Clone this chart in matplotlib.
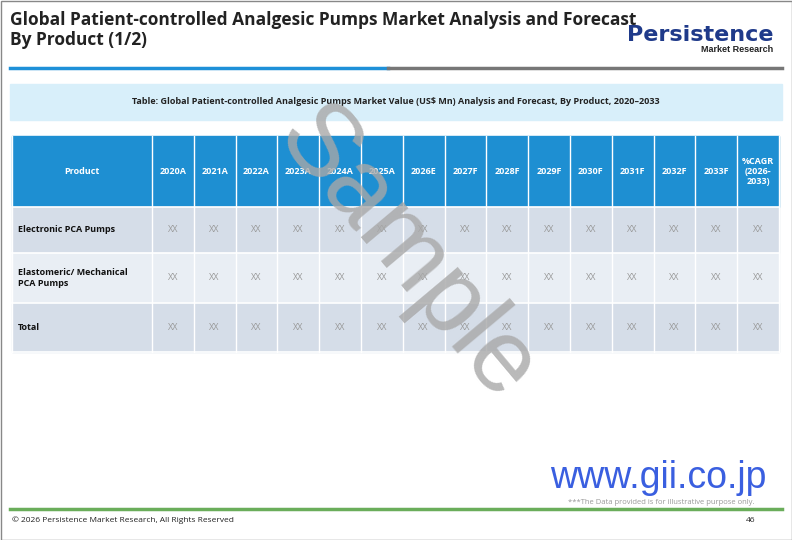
import matplotlib
matplotlib.use("Agg")
import matplotlib.pyplot as plt
from matplotlib.patches import Rectangle

years = ["2020A","2021A","2022A","2023A","2024A","2025A","2026E","2027F","2028F","2029F","2030F","2031F","2032F","2033F","%CAGR\n(2026-\n2033)"]
products = ["Electronic PCA Pumps", "Elastomeric/ Mechanical\nPCA Pumps", "Total"]
values = [["XX"]*15 for _ in products]

plt.rcParams['font.family'] = ['Open Sans', 'DejaVu Sans']
fig = plt.figure(figsize=(7.92, 5.4), dpi=100)
ax = fig.add_axes([0, 0, 1, 1])
ax.set_xlim(0, 792); ax.set_ylim(540, 0); ax.axis('off')

ax.add_patch(Rectangle((0.5, 0.5), 791, 539, fill=False, ec='#888888', lw=1))
ax.text(10, 30, "Global Patient-controlled Analgesic Pumps Market Analysis and Forecast\nBy Product (1/2)",
        fontsize=12.5, fontweight='bold', va='center', ha='left', color='#222222', linespacing=1.1)
ax.text(700, 35, "Persistence", fontsize=16, fontweight='heavy', color='#1f3a8a', ha='center', va='center', family='DejaVu Sans')
ax.text(773, 50, "Market Research", fontsize=6.5, fontweight='bold', color='#222222', ha='right', va='center', family='Liberation Sans')
ax.plot([10, 388], [68, 68], color='#1e90d8', lw=2.5)
ax.plot([388, 782], [68, 68], color='#777777', lw=2.5)
ax.add_patch(Rectangle((10, 84), 772, 36, color='#d8effa'))
ax.text(396, 102, "Table: Global Patient-controlled Analgesic Pumps Market Value (US$ Mn) Analysis and Forecast, By Product, 2020\u20132033",
        fontsize=6.5, fontweight='bold', ha='center', va='center', color='#222222')

x0, xp, x1 = 12, 152, 779
cw = (x1 - xp) / len(years)
ytop, yh = 136, 207
rows = [(207, 253), (253, 303), (303, 352)]
ax.add_patch(Rectangle((x0, ytop), x1 - x0, yh - ytop, color='#1e8fd2'))
ax.text((x0 + xp) / 2, (ytop + yh) / 2, "Product", color='white', fontsize=6.5, fontweight='bold', ha='center', va='center')
for i, y in enumerate(years):
    ax.text(xp + cw * (i + 0.5), (ytop + yh) / 2, y, color='white', fontsize=6.5, fontweight='bold', ha='center', va='center')
row_colors = ['#d5dde8', '#e9eef4', '#d5dde8']
for r, (p, (a, b)) in enumerate(zip(products, rows)):
    ax.add_patch(Rectangle((x0, a), x1 - x0, b - a, color=row_colors[r]))
    ax.text(x0 + 6, (a + b) / 2, p, fontsize=6.5, fontweight='bold', ha='left', va='center', color='#111111')
    for i, v in enumerate(values[r]):
        ax.text(xp + cw * (i + 0.5), (a + b) / 2, v, fontsize=6.5, ha='center', va='center', color='#999999')
for i in range(len(years) + 1):
    ax.plot([xp + cw * i] * 2, [ytop, 352], color='white', lw=1)
ax.plot([x0, x0], [ytop, 352], color='white', lw=1)
for y in [yh, 253, 303, 352]:
    ax.plot([x0, x1], [y, y], color='white', lw=1.2)

ax.text(405, 255, "Sample", fontsize=74, rotation=-50, ha='center', va='center', color='#a8a8a8', alpha=0.8, family='Liberation Sans')
ax.text(767, 478, "www.gii.co.jp", fontsize=27, color='#3a5fe0', ha='right', va='center', family='Liberation Sans')
ax.text(755, 502, "***The Data provided is for illustrative purpose only.", fontsize=5.5, color='#999999', ha='right', va='center')
ax.plot([10, 782], [509, 509], color='#6aad5a', lw=2.5)
ax.text(12, 520, "\u00a9 2026 Persistence Market Research, All Rights Reserved", fontsize=6, ha='left', va='center', color='#222222')
ax.text(755, 520, "46", fontsize=6, ha='right', va='center', color='#222222')
fig.savefig("out.png", dpi=100)
